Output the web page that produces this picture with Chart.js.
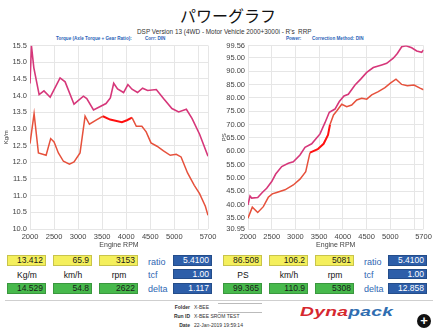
<!DOCTYPE html>
<html lang="ja">
<head>
<meta charset="UTF-8">
<title>パワーグラフ</title>
<script src="https://cdn.jsdelivr.net/npm/chart.js"></script>
<style>
  body { margin:0; width:438px; height:334px; background:#fff; position:relative; overflow:hidden;
         font-family:'Liberation Sans', Arial, sans-serif; color:#222; }
  .abs { position:absolute; white-space:nowrap; }
  canvas { position:absolute; }
  .title { left:180px; top:5px; font-family:'Noto Sans CJK JP', sans-serif; font-size:16px; line-height:20px; color:#111; }
  .sub { left:137px; top:28px; font-size:6.4px; line-height:8px; color:#333; }
  .blue-s { font-size:4.6px; line-height:6px; top:36px; color:#2a63b8; font-weight:bold; }
  .box { position:absolute; box-sizing:border-box; text-align:right; padding-right:2px; font-size:8.5px;
         border:1px solid rgba(0,0,0,0.18); color:#1a1a1a; }
  .yel { background:#f4ef5c; }
  .grn { background:#47b94c; }
  .blu { background:#2d5ea9; color:#fff; }
  .lbl { position:absolute; font-size:8.5px; line-height:10px; text-align:center; width:40px; color:#111; }
  .bl { position:absolute; font-size:9px; line-height:10px; color:#2f67b3; }
  .info { font-size:5px; line-height:6px; color:#333; }
  .info b { display:inline-block; width:30px; text-align:right; margin-right:4px; }
  .logo { left:300px; top:305px; font-size:12px; line-height:14px; font-weight:bold; font-style:italic;
          transform:scaleX(1.6); transform-origin:left top; letter-spacing:0.2px; }
  .plus { left:417px; top:314px; width:14px; height:14px; border-radius:50%; background:#111; color:#fff;
          font-size:13px; line-height:14px; text-align:center; font-weight:bold; }
</style>
</head>
<body>
<div class="abs title">パワーグラフ</div>
<div class="abs sub">DSP Version 13 (4WD - Motor Vehicle 2000+3000i - R's &nbsp;RRP</div>
<div class="abs blue-s" style="left:56px">Torque (Axle Torque + Gear Ratio):</div>
<div class="abs blue-s" style="left:145px">Corr: DIN</div>
<div class="abs blue-s" style="left:286px">Power:</div>
<div class="abs blue-s" style="left:312px">Correction Method: DIN</div>

<canvas id="torque" width="222" height="212" style="left:0px;top:38px"></canvas>
<canvas id="power" width="220" height="212" style="left:218px;top:38px"></canvas>

<div id="table"></div>
<div class="abs" style="left:5px;top:300px;width:428px;height:1px;background:#cfcfcf"></div>
<div class="abs" style="left:218px;top:303px;width:44px;height:1px;background:#bbb"></div>
<div class="abs" style="left:218px;top:312px;width:44px;height:1px;background:#bbb"></div>

<div class="abs info" style="left:160px;top:304px"><b>Folder</b>X-BEE</div>
<div class="abs info" style="left:160px;top:313px"><b>Run ID</b>X-BEE SROM TEST</div>
<div class="abs info" style="left:160px;top:322px"><b>Date</b>22-Jan-2019 19:59:14</div>
<div class="abs logo"><span style="color:#d6282f">Dyna</span><span style="color:#2f6db0">pack</span></div>
<div class="abs plus">+</div>

<script>
// torque curves (Kg/m)
const tqRpmA = [2000, 2030, 2080, 2190, 2290, 2420, 2625, 2730, 2915, 3110, 3180, 3320, 3580, 3670, 3740, 3820, 3945, 4035, 4120, 4235, 4340, 4445, 4625, 4775, 4950, 5090, 5250, 5370, 5525, 5700];
const tqA    = [14.36, 15.49, 14.83, 14.03, 14.14, 13.95, 14.53, 14.41, 13.74, 13.98, 13.91, 13.57, 13.76, 13.93, 14.37, 14.2, 14.09, 14.33, 14.19, 14.09, 14.22, 14.15, 14.18, 13.91, 13.61, 13.51, 13.59, 13.31, 12.84, 12.18];
const tqRpmB = [2000, 2085, 2175, 2335, 2430, 2500, 2590, 2695, 2820, 2915, 3040, 3145, 3235, 3390, 3515, 3665, 3910, 4015, 4120, 4210, 4325, 4415, 4515, 4640, 4775, 4915, 5040, 5140, 5275, 5415, 5525, 5645, 5700];
const tqB    = [12.56, 13.46, 12.28, 12.21, 12.71, 12.61, 12.28, 12.03, 11.94, 12.01, 12.28, 13.38, 13.14, 13.28, 13.38, 13.28, 13.2, 13.26, 13.34, 13.08, 13.08, 12.91, 12.58, 12.48, 12.34, 12.21, 12.24, 12.16, 11.68, 11.31, 11.06, 10.68, 10.41];

// power curves (PS)
const psRpmA = [2000, 2042, 2078, 2205, 2301, 2394, 2500, 2584, 2711, 2850, 2955, 3096, 3202, 3343, 3518, 3623, 3714, 3834, 3925, 4024, 4115, 4256, 4376, 4503, 4642, 4819, 4924, 5063, 5148, 5241, 5331, 5451, 5557, 5662, 5700];
const psA    = [39.97, 43.3, 42.5, 42.7, 44.6, 46.2, 48.7, 51.5, 54.3, 55.5, 56.1, 58.6, 61.5, 62.8, 66.5, 70.7, 74.6, 75.8, 78.6, 80.7, 81.3, 84.8, 87.0, 89.5, 91.3, 92.3, 92.9, 94.8, 96.6, 99.1, 99.5, 98.7, 97.5, 97.0, 97.9];
const psRpmB = [2000, 2091, 2205, 2323, 2428, 2512, 2605, 2780, 2955, 3096, 3217, 3307, 3470, 3594, 3687, 3729, 3803, 3870, 3976, 4081, 4186, 4292, 4397, 4503, 4608, 4747, 4888, 5009, 5120, 5241, 5359, 5500, 5626, 5700];
const psB    = [35.0, 39.1, 37.1, 39.3, 42.8, 44.1, 44.6, 45.6, 47.4, 49.6, 52.4, 59.5, 60.8, 62.8, 66.1, 70.0, 73.6, 75.1, 77.6, 76.7, 77.3, 79.2, 79.8, 79.5, 81.1, 82.3, 83.8, 85.6, 87.0, 85.0, 84.5, 84.8, 83.6, 83.0];

// axis ticks
const rpmTicks = [2000, 2500, 3000, 3500, 4000, 4500, 5000, 5500, 5700];
const tqTicks = [10.0, 10.5, 11.0, 11.5, 12.0, 12.5, 13.0, 13.5, 14.0, 14.5, 15.0, 15.5];
const psTicks = [30.95, 35, 40, 45, 50, 55, 60, 65, 70, 75, 80, 85, 90, 95, 99.56];

// readout table
const leftTop = ['13.412', '65.9', '3153'];
const leftBot = ['14.529', '54.8', '2622'];
const leftUnits = ['Kg/m', 'km/h', 'rpm'];
const leftBlue = ['5.4100', '1.00', '1.117'];
const rightTop = ['86.508', '106.2', '5081'];
const rightBot = ['99.365', '110.9', '5308'];
const rightUnits = ['PS', 'km/h', 'rpm'];
const rightBlue = ['5.4100', '1.00', '12.858'];
const blueLabels = ['ratio', 'tcf', 'delta'];

const MAGENTA = '#d6377a';
const ORANGE = '#e6513c';
const PURE = '#ff1010';
const GRID = '#e6e6e6';
const tickFont = { family: 'Liberation Sans', size: 7.5 };

function pts(xs, ys) {
    return xs.map((x, i) => ({ x: x, y: ys[i] }));
}

function makeChart(id, setA, setB, yTicks, yMin, yMax, yTitle, fmt, hot, padRight) {
    return new Chart(document.getElementById(id), {
        type: 'line',
        data: {
            datasets: [
                { data: setA, borderColor: MAGENTA, borderWidth: 1.6, pointRadius: 0, tension: 0 },
                {
                    data: setB, borderColor: ORANGE, borderWidth: 1.5, pointRadius: 0, tension: 0,
                    segment: {
                        borderColor: c => (c.p0.parsed.x >= hot[0] && c.p1.parsed.x <= hot[1]) ? PURE : ORANGE,
                        borderWidth: c => (c.p0.parsed.x >= hot[0] && c.p1.parsed.x <= hot[1]) ? 2 : 1.5
                    }
                }
            ]
        },
        options: {
            responsive: false,
            animation: false,
            layout: { padding: { top: 7, right: padRight, left: 0, bottom: 0 } },
            plugins: { legend: { display: false }, tooltip: { enabled: false } },
            scales: {
                x: {
                    type: 'linear', min: 2000, max: 5700,
                    afterBuildTicks: ax => { ax.ticks = rpmTicks.map(v => ({ value: v })); },
                    afterFit: ax => { ax.height = 21; },
                    ticks: { autoSkip: false, maxRotation: 0, padding: 3, font: tickFont, color: '#444',
                             callback: v => v === 5500 ? '' : String(v) },
                    grid: { color: GRID, drawTicks: false },
                    border: { display: false },
                    title: { display: true, text: 'Engine RPM', color: '#444',
                             font: { family: 'Liberation Sans', size: 7 }, padding: { top: 0, bottom: 1 } }
                },
                y: {
                    min: yMin, max: yMax,
                    afterBuildTicks: ax => { ax.ticks = yTicks.map(v => ({ value: v })); },
                    afterFit: ax => { ax.width = 30; },
                    ticks: { autoSkip: false, padding: 3, font: tickFont, color: '#444', callback: fmt },
                    grid: { color: GRID, drawTicks: false },
                    border: { display: false },
                    title: { display: true, text: yTitle, color: '#444',
                             font: { family: 'Liberation Sans', size: 6 }, padding: { top: 3, bottom: 0 } }
                }
            }
        }
    });
}

makeChart('torque', pts(tqRpmA, tqA), pts(tqRpmB, tqB), tqTicks, 10, 15.5, 'Kg/m',
    v => v.toFixed(1), [3480, 4130], 14);
makeChart('power', pts(psRpmA, psA), pts(psRpmB, psB), psTicks, 30.95, 99.56, 'PS',
    v => v.toFixed(2), [3280, 3760], 14.5);

// readout table
const table = document.getElementById('table');
function add(cls, x, y, w, h, text) {
    const d = document.createElement('div');
    d.className = cls;
    d.style.left = x + 'px';
    d.style.top = y + 'px';
    if (w) d.style.width = w + 'px';
    if (h) { d.style.height = h + 'px'; d.style.lineHeight = (h - 2) + 'px'; }
    d.textContent = text;
    table.appendChild(d);
}
function block(cols, top, bot, units, blueX, labX, blue) {
    cols.forEach((x, i) => {
        add('box yel', x, 255, 39, 11, top[i]);
        add('lbl', x, 270, 0, 0, units[i]);
        add('box grn', x, 283, 39, 11, bot[i]);
    });
    add('box blu', blueX, 255, 39, 11, blue[0]);
    add('box blu', blueX, 269, 39, 10, blue[1]);
    add('box blu', blueX, 283, 39, 11, blue[2]);
    add('bl', labX, 257, 0, 0, blueLabels[0]);
    add('bl', labX, 270, 0, 0, blueLabels[1]);
    add('bl', labX, 284, 0, 0, blueLabels[2]);
}
block([7, 53, 99], leftTop, leftBot, leftUnits, 173, 148, leftBlue);
block([223, 269, 315], rightTop, rightBot, rightUnits, 388, 364, rightBlue);
</script>
</body>
</html>
